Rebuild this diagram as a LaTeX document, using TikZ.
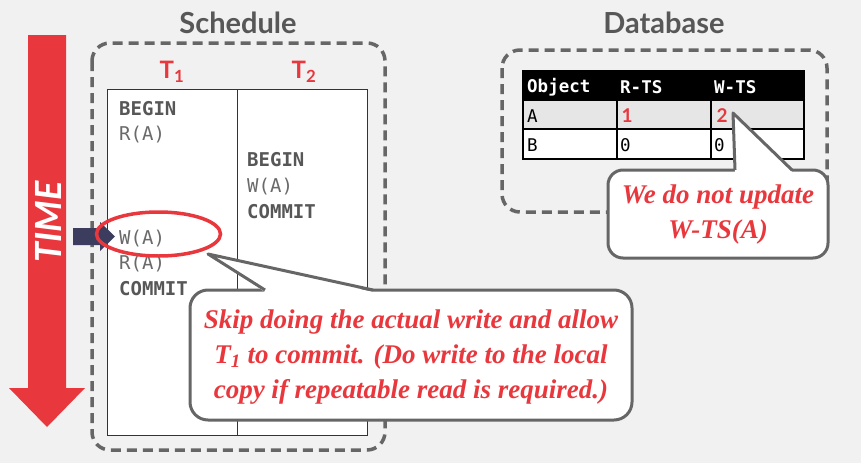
\documentclass[tikz,border=0pt]{standalone}
\usepackage{fontspec}
\setmainfont{Liberation Serif}
\newfontfamily\titlefont{Lato}
\newfontfamily\monofont{DejaVu Sans Mono}
\usetikzlibrary{shapes.geometric}
\definecolor{bg}{HTML}{F1F1F1}
\definecolor{myred}{HTML}{E8383D}
\definecolor{dgray}{HTML}{575757}
\definecolor{lgray}{HTML}{6A6A6A}
\definecolor{dashc}{HTML}{666666}
\definecolor{navy}{HTML}{3C3C5E}
\definecolor{rowa}{HTML}{E6E6E6}
\tikzset{
  dashbox/.style={draw=dashc, line width=3.5pt, dash pattern=on 10pt off 6pt, rounded corners=18pt},
  callout/.style={draw=dashc, line width=3pt, fill=white, rounded corners=18pt},
  calltext/.style={text=myred, font=\fontsize{27}{35}\selectfont\bfseries\itshape, align=center, inner sep=0pt},
  title/.style={text=dgray, font=\titlefont\bfseries\fontsize{29}{30}\selectfont},
  tlabel/.style={text=myred, font=\titlefont\bfseries\fontsize{24}{26}\selectfont},
  codeb/.style={anchor=west, inner sep=0pt, text=dgray, font=\monofont\bfseries\fontsize{19}{20}\selectfont},
  coder/.style={anchor=west, inner sep=0pt, text=lgray, font=\monofont\fontsize{19}{20}\selectfont},
  thead/.style={anchor=west, inner sep=0pt, text=white, font=\monofont\bfseries\fontsize{17.5}{18}\selectfont},
  tcell/.style={anchor=west, inner sep=0pt, text=black, font=\monofont\fontsize{17.5}{18}\selectfont},
  tred/.style={inner sep=0pt, text=myred, font=\titlefont\bfseries\fontsize{19}{20}\selectfont},
}
\begin{document}
\begin{tikzpicture}[x=1pt,y=-1pt]
\fill[bg] (0,0) rectangle (861,463);
\useasboundingbox (0,0) rectangle (861,463);

% TIME arrow
\fill[myred] (28,35) -- (66,35) -- (66,388) -- (85,388) -- (47,427) -- (9,388) -- (28,388) -- cycle;
\node[rotate=90, text=white, font=\titlefont\bfseries\itshape\fontsize{36}{38}\selectfont] (time) at (48,222) {TIME};

% Schedule
\node[title] (schedtitle) at (238,23) {Schedule};
\draw[dashbox] (92,43) rectangle (385,450);
\node[tlabel] (t1) at (172,72) {T\textsubscript{1}};
\node[tlabel] (t2) at (304,72) {T\textsubscript{2}};
\draw[fill=white, draw=black!80, line width=1pt] (107,89) rectangle (367,435);
\draw[black!80, line width=1pt] (237,89) -- (237,435);

\node[codeb] (b1) at (119,109) {BEGIN};
\node[coder] (r1) at (119,135) {R(A)};
\node[codeb] (b2) at (247,160) {BEGIN};
\node[coder] (w2) at (247,187) {W(A)};
\node[codeb] (c2) at (247,212) {COMMIT};
\node[coder] (w1) at (119,239) {W(A)};
\node[coder] (r1b) at (119,264) {R(A)};
\node[codeb] (c1) at (119,289) {COMMIT};

% pointer
\fill[navy] (73,228) -- (100,228) -- (100,222) -- (115,236.5) -- (100,251) -- (100,245) -- (73,245) -- cycle;

% highlight ellipse
\node[ellipse, draw=myred, line width=3.5pt, minimum width=124pt, minimum height=44pt, inner sep=0pt] (hl) at (158.5,234) {};

% Callout 1
\node[callout, minimum width=442pt, minimum height=130pt, inner sep=0pt] (call1) at (411,355) {};
\coordinate (tip1) at (208,254);
\fill[white] (tip1) -- (265,292) -- (373,292) -- cycle;
\draw[dashc, line width=3pt, line join=round] (265,290) -- (tip1) -- (373,290);
\node[calltext] (txt1) at (411,357) {Skip doing the actual write and allow\\T\textsubscript{1} to commit. (Do write to the local\\copy if repeatable read is required.)};

% Database
\node[title] (dbtitle) at (664,23) {Database};
\draw[dashbox] (502,50) rectangle (827,212);

\fill[black] (523,71) rectangle (804,100);
\fill[rowa] (523,100) rectangle (804,129);
\fill[white] (523,129) rectangle (804,159);
\draw[black, line width=1.2pt] (523,71) rectangle (804,159);
\draw[black, line width=1.2pt] (523,100) -- (804,100);
\draw[black, line width=1.2pt] (523,129) -- (804,129);
\draw[black, line width=1.2pt] (617,71) -- (617,159);
\draw[black, line width=1.2pt] (711,71) -- (711,159);
\node[thead] (h1) at (527,87) {Object};
\node[thead] (h2) at (620,87) {R-TS};
\node[thead] (h3) at (714,87) {W-TS};
\node[tcell] (ca) at (527,116) {A};
\node[tred] (v1) at (627,116) {1};
\node[tred] (v2) at (722,116) {2};
\node[tcell] (cb) at (527,145) {B};
\node[tcell] (v3) at (620,145) {0};
\node[tcell] (v4) at (714,145) {0};

% Callout 2
\node[callout, minimum width=220pt, minimum height=88pt, inner sep=0pt, rounded corners=15pt] (call2) at (718,214) {};
\coordinate (tip2) at (733,113);
\fill[white] (tip2) -- (735,172) -- (792,172) -- cycle;
\draw[dashc, line width=3pt, line join=round] (735,170) -- (tip2) -- (792,170);
\node[calltext] (txt2) at (718,215) {We do not update\\W-TS(A)};
\end{tikzpicture}
\end{document}
